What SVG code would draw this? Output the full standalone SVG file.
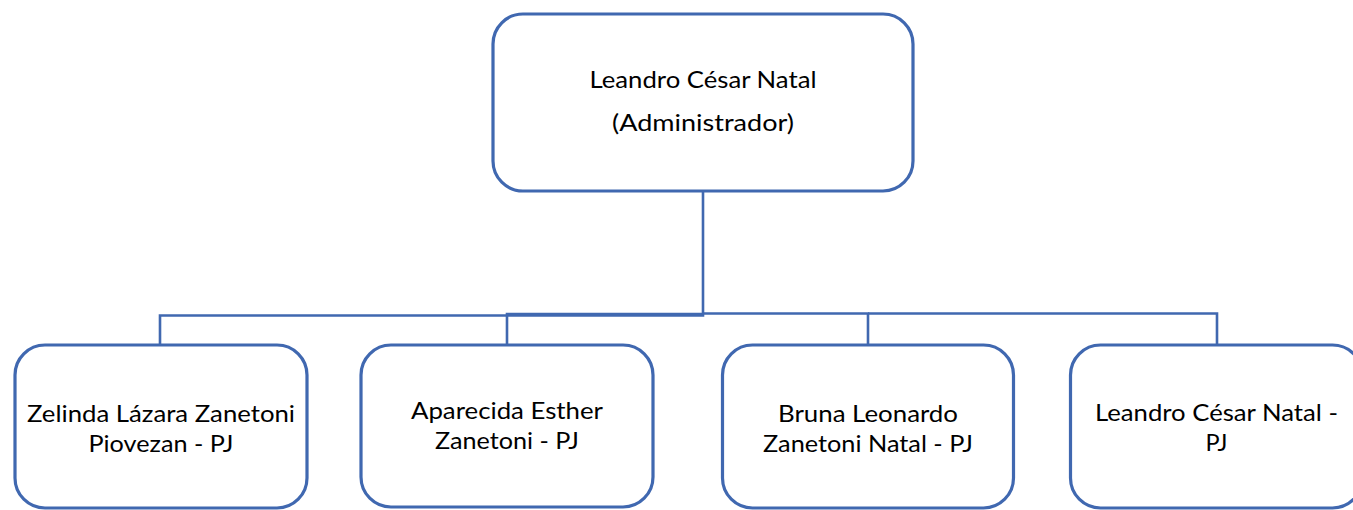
<svg xmlns="http://www.w3.org/2000/svg" width="1353" height="510" viewBox="0 0 1353 510">
<style>
.box{fill:#ffffff;stroke:#4068B0;stroke-width:3.2}
.con{fill:none;stroke:#4068B0;stroke-width:2.6}
.t{font-family:Lato,"Open Sans","Liberation Sans",sans-serif;font-size:23.5px;fill:#000000;text-anchor:middle}
</style>
<rect width="1353" height="510" fill="#ffffff"/>
<g id="connectors">
<path class="con" d="M703,192 V315.5 H160 V345"/>
<path class="con" d="M703,314 H507 V345"/>
<path class="con" d="M703,313.5 H868 V345"/>
<path class="con" d="M868,313.5 H1217 V345"/>
</g>
<g id="node-admin">
<rect class="box" x="493" y="14" width="420" height="177" rx="30"/>
<text class="t" x="703" y="88" textLength="227" lengthAdjust="spacingAndGlyphs">Leandro César Natal</text>
<text class="t" x="703" y="131" textLength="182" lengthAdjust="spacingAndGlyphs">(Administrador)</text>
</g>
<g id="node-zelinda">
<rect class="box" x="15" y="345" width="292" height="163" rx="30"/>
<text class="t" x="161" y="421.5" textLength="268" lengthAdjust="spacingAndGlyphs">Zelinda Lázara Zanetoni</text>
<text class="t" x="161" y="451.5" textLength="145" lengthAdjust="spacingAndGlyphs">Piovezan - PJ</text>
</g>
<g id="node-aparecida">
<rect class="box" x="361" y="345" width="292" height="162" rx="30"/>
<text class="t" x="507" y="419" textLength="192" lengthAdjust="spacingAndGlyphs">Aparecida Esther</text>
<text class="t" x="507" y="449" textLength="144" lengthAdjust="spacingAndGlyphs">Zanetoni - PJ</text>
</g>
<g id="node-bruna">
<rect class="box" x="722.5" y="345" width="291" height="163" rx="30"/>
<text class="t" x="868" y="421.5" textLength="180" lengthAdjust="spacingAndGlyphs">Bruna Leonardo</text>
<text class="t" x="868" y="452" textLength="210" lengthAdjust="spacingAndGlyphs">Zanetoni Natal - PJ</text>
</g>
<g id="node-leandro-pj">
<rect class="box" x="1070.5" y="345" width="292" height="163" rx="30"/>
<text class="t" x="1216.5" y="420.5" textLength="243" lengthAdjust="spacingAndGlyphs">Leandro César Natal -</text>
<text class="t" x="1216.5" y="450.5">PJ</text>
</g>
</svg>
